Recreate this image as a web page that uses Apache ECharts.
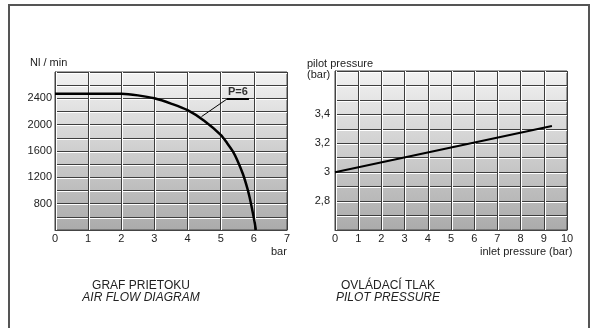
<!DOCTYPE html>
<html><head><meta charset="utf-8">
<script src="https://cdn.jsdelivr.net/npm/echarts@6/dist/echarts.min.js"></script>
<style>html,body{margin:0;padding:0;background:#fff}#c{width:597px;height:328px}</style>
</head><body><div id="c"></div>
<script>
// Air flow diagram (left)
const flowX = [0, 1, 2, 2.5, 3, 3.5, 4, 4.5, 5, 5.2, 5.37, 5.5, 5.67, 5.8, 5.87, 5.97, 6.03, 6.06];
const flowY = [2470, 2470, 2468, 2445, 2400, 2320, 2220, 2060, 1845, 1715, 1590, 1460, 1250, 1040, 900, 660, 500, 400];
const flowYTicks = [800, 1200, 1600, 2000, 2400];
const leaderX = [4.42, 5.19, 5.85];
const leaderY = [2122, 2390, 2390];
const curveLabel = 'P=6';
// Pilot pressure (right)
const inletX = [0, 9.35];
const pilotY = [3.0, 3.32];
const pilotYTicks = ['2,8', '3', '3,2', '3,4'];

const font = 'Liberation Sans, Arial, sans-serif';
const bg = {type:'linear', x:0, y:0, x2:0, y2:1, colorStops:[{offset:0,color:'#f2f2f2'},{offset:1,color:'#ababab'}]};
const vSplit = {show:true, lineStyle:{color:'#3e3e3e', width:1, shadowColor:'#ffffff', shadowOffsetX:1, shadowOffsetY:0, shadowBlur:0}};
const hSplit = {show:true, lineStyle:{color:'#3e3e3e', width:1, shadowColor:'#ffffff', shadowOffsetX:0, shadowOffsetY:1, shadowBlur:0}};
const lbl = {color:'#222', fontSize:11, fontFamily:font};

const chart = echarts.init(document.getElementById('c'));
chart.setOption({
  animation:false,
  backgroundColor:'#fff',
  title:[
    {text:'GRAF PRIETOKU', subtext:'AIR FLOW DIAGRAM', left:141, top:280, textAlign:'center', itemGap:0, padding:0,
     textStyle:{fontSize:12, fontWeight:'normal', color:'#222', fontFamily:font},
     subtextStyle:{fontSize:12, fontStyle:'italic', color:'#222', fontFamily:font}},
    {text:'OVLÁDACÍ TLAK', subtext:'PILOT PRESSURE', left:388, top:280, textAlign:'center', itemGap:0, padding:0,
     textStyle:{fontSize:12, fontWeight:'normal', color:'#222', fontFamily:font},
     subtextStyle:{fontSize:12, fontStyle:'italic', color:'#222', fontFamily:font}}
  ],
  grid:[
    {left:55, top:72, width:232, height:158, show:true, backgroundColor:bg, borderColor:'#444', borderWidth:1},
    {left:335, top:71, width:232, height:159, show:true, backgroundColor:bg, borderColor:'#444', borderWidth:1}
  ],
  xAxis:[
    {gridIndex:0, type:'value', min:0, max:7, interval:1, axisLine:{show:true, lineStyle:{color:'#444'}}, axisTick:{show:false},
     axisLabel:Object.assign({margin:3}, lbl), splitLine:vSplit},
    {gridIndex:1, type:'value', min:0, max:10, interval:1, axisLine:{show:true, lineStyle:{color:'#444'}}, axisTick:{show:false},
     axisLabel:Object.assign({margin:3}, lbl), splitLine:vSplit}
  ],
  yAxis:[
    {gridIndex:0, type:'value', min:400, max:2800, interval:200, axisLine:{show:true, lineStyle:{color:'#444'}}, axisTick:{show:false},
     axisLabel:Object.assign({margin:3, formatter:v => flowYTicks.includes(Math.round(v)) ? String(Math.round(v)) : ''}, lbl), splitLine:hSplit},
    {gridIndex:1, type:'value', min:2.6, max:3.7, interval:0.1, axisLine:{show:true, lineStyle:{color:'#444'}}, axisTick:{show:false},
     axisLabel:Object.assign({margin:5, formatter:v => { const s = String(Math.round(v*10)/10).replace('.', ','); return pilotYTicks.includes(s) ? s : ''; }}, lbl), splitLine:hSplit}
  ],
  graphic:[
    {type:'rect', shape:{x:9, y:5, width:580, height:340}, style:{fill:'none', stroke:'#555', lineWidth:2}, silent:true},
    {type:'text', left:30, top:57, style:{text:'Nl / min', fill:'#222', font:'11px '+font}},
    {type:'text', left:271, top:246, style:{text:'bar', fill:'#222', font:'11px '+font}},
    {type:'text', left:307, top:58, style:{text:'pilot pressure', fill:'#222', font:'11px '+font}},
    {type:'text', left:307, top:69, style:{text:'(bar)', fill:'#222', font:'11px '+font}},
    {type:'text', left:480, top:246, style:{text:'inlet pressure (bar)', fill:'#222', font:'11px '+font}}
  ],
  series:[
    {type:'line', xAxisIndex:0, yAxisIndex:0, data:flowX.map((x,i)=>[x, flowY[i]]), smooth:0.3, showSymbol:false,
     lineStyle:{color:'#000', width:2.5}},
    {type:'line', xAxisIndex:0, yAxisIndex:0, data:leaderX.map((x,i)=>[x, leaderY[i]]), showSymbol:false,
     lineStyle:{color:'#000', width:1}},
    {type:'line', xAxisIndex:0, yAxisIndex:0, data:leaderX.slice(1).map((x,i)=>[x, leaderY[i+1]]), showSymbol:false,
     lineStyle:{color:'#000', width:2}},
    {type:'scatter', xAxisIndex:0, yAxisIndex:0, data:[[(leaderX[1]+leaderX[2])/2, leaderY[1]]], symbolSize:0,
     label:{show:true, position:'top', distance:2, formatter:curveLabel, fontWeight:'bold', fontSize:11, color:'#000', fontFamily:font}},
    {type:'line', xAxisIndex:1, yAxisIndex:1, data:inletX.map((x,i)=>[x, pilotY[i]]), showSymbol:false,
     lineStyle:{color:'#000', width:2}}
  ]
});
</script></body></html>
